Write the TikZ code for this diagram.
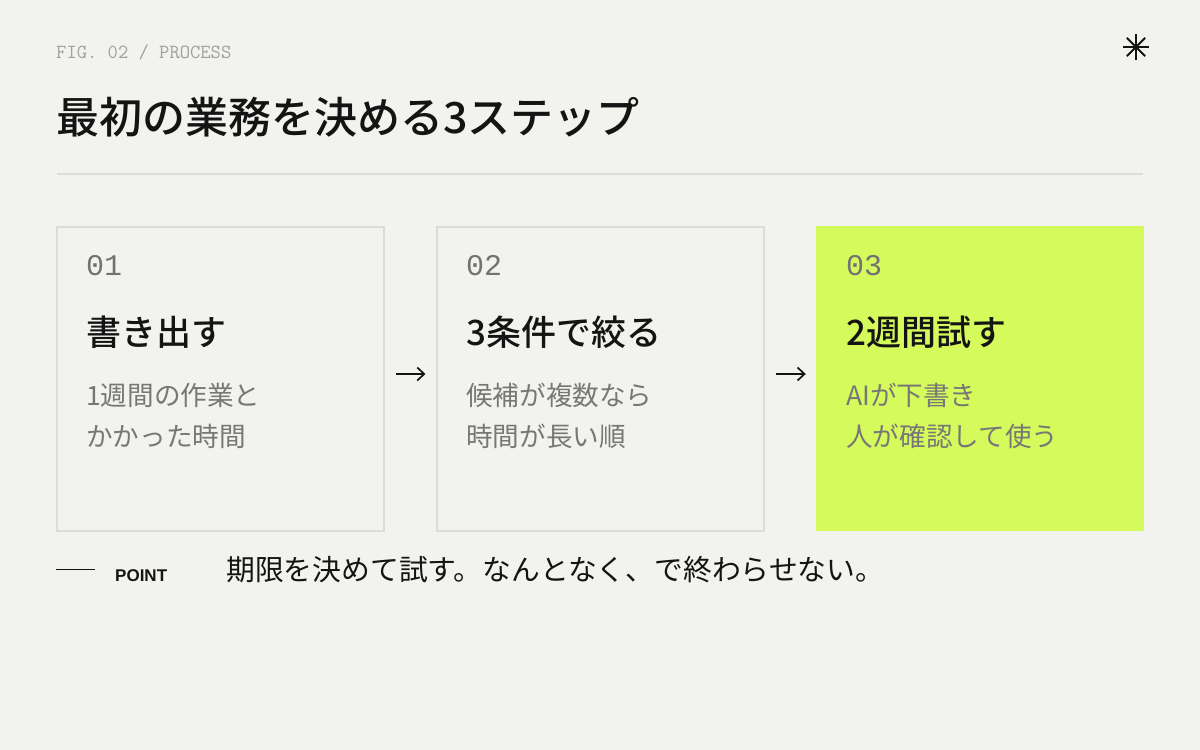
\documentclass[tikz,border=0pt]{standalone}
\usepackage{fontspec}
\usepackage{tikz}
\usetikzlibrary{arrows.meta,calc}
\newfontfamily\jpfont{Noto Sans CJK JP}
\newfontfamily\jpmedium{Noto Sans CJK JP Medium}
\newfontfamily\numfont{Liberation Mono}
\newfontfamily\pointfont{Liberation Sans}
\definecolor{paper}{HTML}{F2F2EE}
\definecolor{lime}{HTML}{D5FA5B}
\definecolor{edge}{HTML}{DCDCD8}
\definecolor{ink}{HTML}{141414}
\definecolor{muted}{HTML}{777777}
\definecolor{faint}{HTML}{A0A0A0}
\tikzset{
  stepbox/.style={draw=edge,line width=2pt,fill=paper,minimum width=327pt,minimum height=304pt,inner sep=0pt},
  stepnow/.style={fill=lime,minimum width=328pt,minimum height=305pt,inner sep=0pt},
  stepnum/.style={anchor=base west,inner sep=0pt,text=ink!60,font=\numfont\fontsize{30}{36}\selectfont},
  stephead/.style={anchor=base west,inner sep=0pt,text=ink,font=\jpmedium\fontsize{35}{42}\selectfont},
  stepbody/.style={anchor=base west,inner sep=0pt,text=muted,align=left,font=\jpfont\fontsize{26.6}{41.5}\selectfont},
  flow/.style={-{Straight Barb[length=7pt,width=13pt]},line width=1.7pt,ink,shorten <=11pt,shorten >=10pt}
}
\begin{document}
\begin{tikzpicture}
[x=1pt,y=-1pt]
\fill[paper] (0,0) rectangle (1200,750);
\useasboundingbox (0,0) rectangle (1200,750);
% header
\node[anchor=base west,inner sep=0pt,text=faint,font=\ttfamily\fontsize{20}{24}\selectfont] (fig) at (56,58) {FIG. 02 / PROCESS};
\coordinate (star) at (1136,47);
\foreach \a in {0,45,90,135} \draw[ink,line width=2pt] ($(star)+(\a:13pt)$) -- ($(star)+(\a+180:13pt)$);
\node[anchor=base west,inner sep=0pt,text=ink,font=\jpmedium\fontsize{43}{50}\selectfont] (title) at (56,133) {最初の業務を決める3ステップ};
\draw[edge,line width=2pt] (57,174) -- (1143,174);
% the three steps
\foreach \i/\sty/\head/\body in {1/stepbox/書き出す/{1週間の作業と\\かかった時間},2/stepbox/3条件で絞る/{候補が複数なら\\時間が長い順},3/stepnow/2週間試す/{AIが下書き\\人が確認して使う}}{
  \node[\sty] (step\i) at (56+380*\i-380+164,378.5) {};
  \node[stepnum] (num\i) at (56+380*\i-380+30,275) {0\i};
  \node[stephead] (head\i) at (56+380*\i-380+30,345.5) {\head};
  \node[stepbody] (body\i) at (56+380*\i-380+30,446.5) {\body};
}
\foreach \i/\j in {1/2,2/3} \draw[flow] ([yshift=4.5pt]step\i.east) -- ([yshift=4.5pt]step\j.west);
% point
\coordinate (rule) at (56,569.5);
\node[anchor=base west,inner sep=0pt,text=ink,font=\pointfont\bfseries\fontsize{17}{20}\selectfont] (point) at (115,581) {POINT};
\draw[ink,line width=1.5pt] (rule) -- ++(39,0);
\node[anchor=base west,inner sep=0pt,text=ink,font=\jpfont\fontsize{28.8}{34}\selectfont] (pointtext) at (226,580) {期限を決めて試す。なんとなく、で終わらせない。};
\end{tikzpicture}
\end{document}
